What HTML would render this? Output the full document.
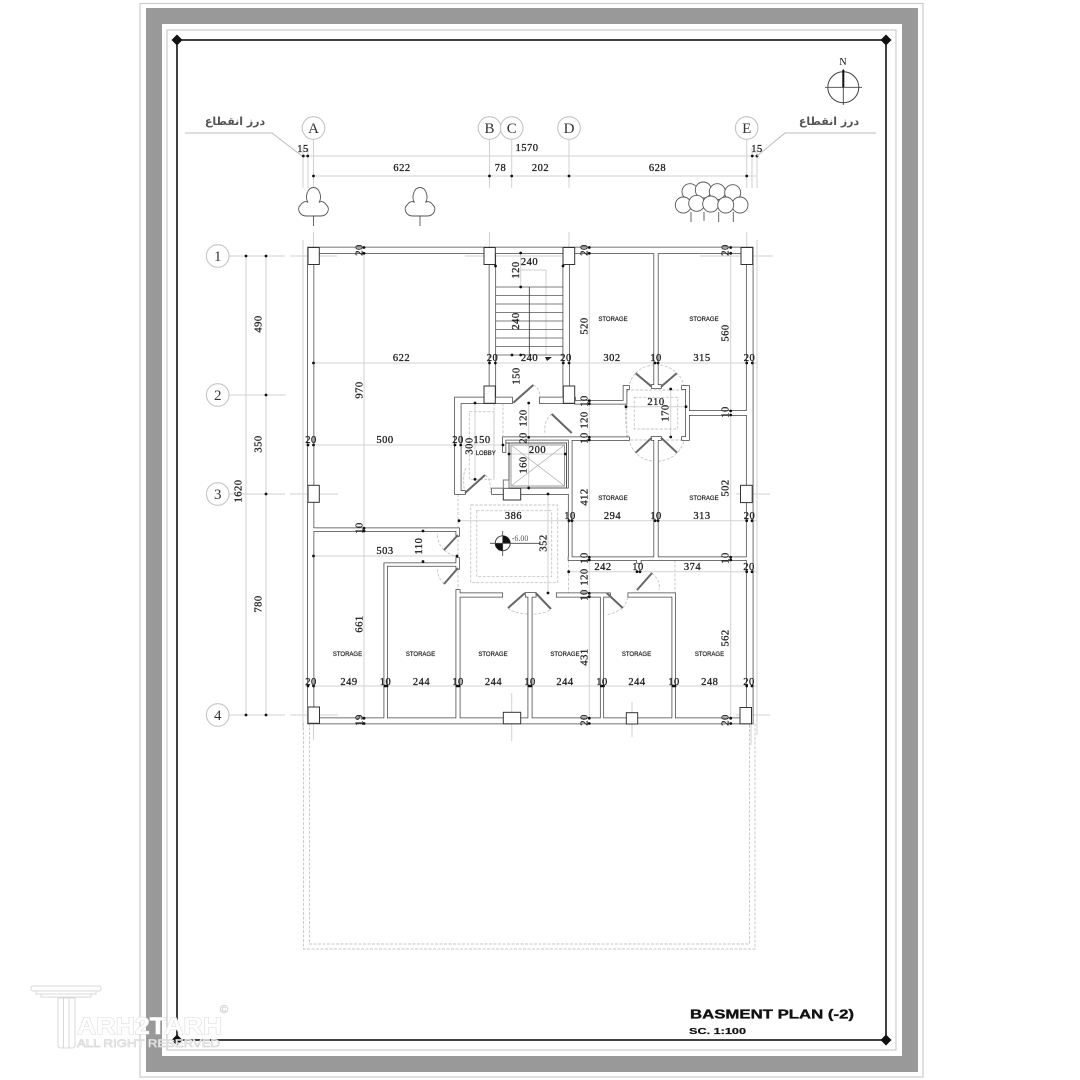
<!DOCTYPE html>
<html><head><meta charset="utf-8"><style>
html,body{margin:0;padding:0;background:#fff}
svg{display:block;filter:blur(.3px)}
.d text{font-family:"Liberation Serif",serif;font-size:10.5px;letter-spacing:.5px;text-anchor:middle;fill:#222;stroke:#222;stroke-width:.3}
.s text{font-family:"Liberation Sans",sans-serif;font-size:6px;text-anchor:middle;fill:#222;stroke:#222;stroke-width:.2}
.b text{font-family:"Liberation Serif",serif;font-size:15px;text-anchor:middle;fill:#333}
.p{font-family:"DejaVu Sans",sans-serif;font-size:11px;font-weight:bold;fill:#555}
</style></head><body>
<svg width="1080" height="1080" viewBox="0 0 1080 1080" xmlns="http://www.w3.org/2000/svg">
<defs>
<path id="w" d="M308 247.5H752.7V253.3H308Z M308 247.5H313.5V723.5H308Z M746.7 247.5H752.7V723.5H746.7Z M308 718.2H752.7V723.5H308Z
M489.5 253H495.3V398H489.5Z M563.3 253H569V398H563.3Z M455 397.5H512V403.3H455Z M540 397.5H575V403.3H540Z
M575 400.7H626V403.7H575Z M623.5 386H626.5V403.7H623.5Z M623.5 386H629V389H623.5Z M686 386H689V440H686Z M682 386H689V389H682Z M682 437H689V440H682Z
M688 411H746.7V415H688Z M571.7 437.3H629V440H571.7Z
M654.2 253H657.8V387H654.2Z M651.7 385H661V388H651.7Z M651.7 437H661V440H651.7Z M654.2 440H657.8V558H654.2Z
M568.5 557.3H746.7V560H568.5Z M568.7 438H571.7V560H568.7Z M637 559H640.7V563H637Z
M455 397.5H460.7V494H455Z M455 491H465V494H455Z
M503 437.3H571.7V439.8H503Z M503 437.3H505.5V452H503Z
M492 488.5H571.7V494H492Z
M556.7 593.3H603V596.7H556.7Z M600.7 593.3H603.3V718.5H600.7Z M603 593.3H610V596.7H603Z M628.3 593.3H675V596.7H628.3Z M672.3 593.3H675V718.5H672.3Z
M458.3 593.3H502.3V596.7H458.3Z M456.3 590H459.7V718.5H456.3Z M525.7 593H535.7V596.7H525.7Z M528.3 596H531.7V718.5H528.3Z
M384.3 563.3H387V718.5H384.3Z M384.3 563.3H459V565.9H384.3Z M456.3 558H459V569H456.3Z
M313 528.3H459V531H313Z M456.3 528.3H459V536H456.3Z"/>
<g id="t"><path d="M-7 216 C-14 216 -17 209 -13 205 C-10 201 -7 201 -5.5 202.500 C-9 197 -6 187.500 0 187.500 C6 187.500 9 197 5.500 202.500 C7 201 10 201 13 205 C17 209 14 216 7 216Z" fill="#fff" stroke="#555" stroke-width=".9"/><path d="M0 216V226" stroke="#555" stroke-width=".9"/></g>
</defs>
<rect width="1080" height="1080" fill="#fff"/>

<!-- frame -->
<rect x="140" y="3.500" width="783" height="1073.500" fill="none" stroke="#ccc" stroke-width="1.200"/>
<path fill-rule="evenodd" fill="#999" d="M146 8H918V1072H146Z M162 24H902V1056H162Z"/>
<rect x="167" y="30" width="729" height="1020" fill="none" stroke="#ccc" stroke-width="1.200"/>
<rect x="177" y="40" width="709" height="1000" fill="none" stroke="#111" stroke-width="1.600"/>
<g fill="#111"><path d="M177 34.500L182.500 40L177 45.500L171.500 40Z"/><path d="M886 34.500L891.500 40L886 45.500L880.500 40Z"/><path d="M177 1034.500L182.500 1040L177 1045.500L171.500 1040Z"/><path d="M886 1034.500L891.500 1040L886 1045.500L880.500 1040Z"/></g>

<!-- dashed guides -->
<g fill="none" stroke="#c6c6c6" stroke-width=".9" stroke-dasharray="3 1.500">
<path d="M303.500 723V949H755V723"/><path d="M309.500 723V944H749.500V723"/>
<rect x="470.700" y="505" width="87" height="77.700"/><rect x="476.700" y="510.700" width="75" height="66"/>
<path d="M458 494V590M568.500 560V593M503 403V437M494 403V479"/>
<rect x="469.300" y="411.700" width="24.700" height="67.600"/>
<rect x="626.700" y="390" width="59.300" height="50"/><rect x="634.300" y="397.300" width="43.400" height="31.700"/>
<path d="M635.700 373.300C645 362 667 362 676.700 373.300C692 386 692 440 677 452.700C667 464 645 464 635.700 452.700C622 440 622 386 635.700 373.300Z"/>
<path d="M533.300 385C540 388 541 396 539 403M551.700 414C546 418 544 426 545 433M485 475C490 478 491 486 490 493M465 493C463 485 463 472 466 468"/>
<path d="M444 550C449 554 453 556 458 556M444 550C439 545 437 539 437.700 533M444 584C439 579 437 573 437.700 568"/>
<path d="M508 608C516 616 544 616 551 609M622.700 608C618 611 612 614 606 615M652 573C659 580 660 584 659 590M622.700 608C626 604 627 600 628 597"/>
<path d="M675 560V593"/>
</g>

<!-- axis / dimension lines -->
<g fill="none" stroke="#d2d2d2" stroke-width="1">
<path d="M313.500 140V190M313.500 232V247M313.500 723V740M489.500 140V188M489.500 232V247M511.700 140V188M569 140V188M569 232V247M746.700 140V188M746.700 232V247"/>
<path d="M229 256H285M290 256H337M465 256H489M496 256H562M700 256H773M229 395H286M229 494H285M290 494H338M736 494H770M229 715H285M290 715H338M736 715H770"/>
<path d="M303 156H757M313.500 176H757M303 148V188M308 148V188M752 148V188M757 148V188"/>
<path d="M246 256V715M266 256V715"/>
<path d="M303 240V730M757 240V735M751 723V745"/>
<path d="M313.500 363H757M305 445H503M458 520.700H757M568 571.700H757M313.500 556H458M305 686H757"/>
<path d="M364 247V724M589.300 247V724M730.700 247V724"/>
<path d="M626 406.700H686M670.700 389V437M528.700 403V488M509 454H566M475 403V479M548 494V593"/>
<path d="M520.700 253V287M520 270H546V355M511.700 693V741M632 702V737"/>
</g>

<!-- stairs -->
<g stroke="#555" stroke-width=".8" fill="none">
<path d="M495 287H563.500M495 295.500H563.500M495 304H563.500M495 312.500H563.500M495 321H563.500M495 329.500H563.500M495 338H563.500M495 346.500H563.500M495 355H563.500"/>
<path d="M529.300 287V355" stroke="#333"/>
</g>
<path d="M545 357H552L547 361Z" fill="#222"/>

<!-- walls -->
<use href="#w" fill="none" stroke="#444" stroke-width="1.500"/>
<use href="#w" fill="#fff"/>

<!-- elevator -->
<g fill="none" stroke="#555" stroke-width="1">
<rect x="509" y="443" width="57.500" height="45"/><rect x="511" y="445" width="53.500" height="41" stroke="#999"/>
<path d="M511 445L564.500 486M564.500 445L511 486" stroke="#aaa" stroke-width=".7"/>
<path d="M505.500 443H509"/>
</g>

<!-- columns -->
<g fill="#fff" stroke="#333" stroke-width="1">
<rect x="308" y="247.500" width="11.300" height="17"/><rect x="484" y="247.500" width="11.300" height="17"/><rect x="563" y="247.500" width="11.700" height="17"/><rect x="741" y="247.500" width="11.700" height="17"/>
<rect x="484" y="386" width="11.300" height="17.300"/><rect x="563.300" y="386" width="11.400" height="17.300"/>
<rect x="308" y="485.300" width="11.300" height="17"/><rect x="740.500" y="485.300" width="11.700" height="17.300"/>
<rect x="503.300" y="488.300" width="17.400" height="11.700"/><rect x="503.300" y="480" width="5.700" height="8.300" stroke="#777"/>
<rect x="308" y="707" width="11.500" height="16.300"/><rect x="740" y="707.500" width="11.500" height="16.300"/>
<rect x="503.300" y="712.300" width="17.400" height="11.500"/><rect x="626.300" y="712.700" width="11.400" height="11.300"/>
</g>

<!-- door leaves -->
<g stroke="#666" stroke-width="2" fill="none">
<path d="M651.700 386.700L635.700 373.300M661 386.700L676.700 373.300M651.700 437.700L635.700 452.700M661 437.700L677 452.700"/>
<path d="M513.300 402.700L533.300 385M551.700 414L571.700 433M465 493L485 475"/>
<path d="M458 535L444 550M458 568L444 584M525 593L508 608M535.700 593L551 609M606.700 593L622.700 608M637 590L652 573"/>
</g>

<!-- dots -->
<g fill="#111">
<circle cx="303.300" cy="156" r="1.400"/><circle cx="307.700" cy="156" r="1.400"/><circle cx="752.300" cy="156" r="1.400"/><circle cx="757" cy="156" r="1.400"/>
<circle cx="313.500" cy="176" r="1.400"/><circle cx="489.500" cy="176" r="1.400"/><circle cx="511.700" cy="176" r="1.400"/><circle cx="569" cy="176" r="1.400"/><circle cx="746.700" cy="176" r="1.400"/>
<circle cx="246" cy="256" r="1.400"/><circle cx="266" cy="256" r="1.400"/><circle cx="266" cy="395" r="1.400"/><circle cx="266" cy="494" r="1.400"/><circle cx="266" cy="715" r="1.400"/><circle cx="246" cy="715" r="1.400"/>
<circle cx="313.500" cy="363" r="1.400"/><circle cx="489.500" cy="363" r="1.400"/><circle cx="495.300" cy="363" r="1.400"/><circle cx="563.300" cy="363" r="1.400"/><circle cx="569" cy="363" r="1.400"/><circle cx="655" cy="363" r="1.400"/><circle cx="658" cy="363" r="1.400"/><circle cx="746.700" cy="363" r="1.400"/><circle cx="752.300" cy="363" r="1.400"/>
<circle cx="308" cy="445" r="1.400"/><circle cx="313.500" cy="445" r="1.400"/><circle cx="455" cy="445" r="1.400"/><circle cx="460.700" cy="445" r="1.400"/><circle cx="503" cy="445" r="1.400"/>
<circle cx="459" cy="520.700" r="1.400"/><circle cx="569" cy="520.700" r="1.400"/><circle cx="572" cy="520.700" r="1.400"/><circle cx="655" cy="520.700" r="1.400"/><circle cx="658" cy="520.700" r="1.400"/><circle cx="746.700" cy="520.700" r="1.400"/><circle cx="752" cy="520.700" r="1.400"/>
<circle cx="568.700" cy="571.700" r="1.400"/><circle cx="637" cy="571.700" r="1.400"/><circle cx="640" cy="571.700" r="1.400"/><circle cx="746.700" cy="571.700" r="1.400"/><circle cx="752" cy="571.700" r="1.400"/>
<circle cx="313.500" cy="556" r="1.400"/><circle cx="457" cy="556" r="1.400"/><circle cx="423" cy="531" r="1.400"/><circle cx="423" cy="561.500" r="1.400"/>
<circle cx="308" cy="686" r="1.400"/><circle cx="313.500" cy="686" r="1.400"/><circle cx="385" cy="686" r="1.400"/><circle cx="387" cy="686" r="1.400"/><circle cx="457" cy="686" r="1.400"/><circle cx="459" cy="686" r="1.400"/><circle cx="529" cy="686" r="1.400"/><circle cx="531" cy="686" r="1.400"/><circle cx="601.500" cy="686" r="1.400"/><circle cx="603.500" cy="686" r="1.400"/><circle cx="673" cy="686" r="1.400"/><circle cx="675" cy="686" r="1.400"/><circle cx="746.700" cy="686" r="1.400"/><circle cx="752" cy="686" r="1.400"/>
<circle cx="364" cy="247.500" r="1.400"/><circle cx="364" cy="253.300" r="1.400"/><circle cx="364" cy="528.300" r="1.400"/><circle cx="364" cy="531" r="1.400"/><circle cx="364" cy="718.200" r="1.400"/><circle cx="364" cy="723.500" r="1.400"/>
<circle cx="589.300" cy="247.500" r="1.400"/><circle cx="589.300" cy="253.300" r="1.400"/><circle cx="589.300" cy="400.700" r="1.400"/><circle cx="589.300" cy="403.700" r="1.400"/><circle cx="589.300" cy="437.300" r="1.400"/><circle cx="589.300" cy="440" r="1.400"/><circle cx="589.300" cy="557.300" r="1.400"/><circle cx="589.300" cy="560" r="1.400"/><circle cx="589.300" cy="593.300" r="1.400"/><circle cx="589.300" cy="596.700" r="1.400"/><circle cx="589.300" cy="718.200" r="1.400"/><circle cx="589.300" cy="723.500" r="1.400"/>
<circle cx="730.700" cy="247.500" r="1.400"/><circle cx="730.700" cy="253.300" r="1.400"/><circle cx="730.700" cy="411" r="1.400"/><circle cx="730.700" cy="415" r="1.400"/><circle cx="730.700" cy="557.300" r="1.400"/><circle cx="730.700" cy="560" r="1.400"/><circle cx="730.700" cy="718.200" r="1.400"/><circle cx="730.700" cy="723.500" r="1.400"/>
<circle cx="520.700" cy="253" r="1.400"/><circle cx="520.700" cy="287" r="1.400"/><circle cx="512" cy="355" r="1.400"/><circle cx="520.700" cy="355" r="1.400"/><circle cx="495.500" cy="266" r="1.400"/><circle cx="563" cy="266" r="1.400"/>
<circle cx="528.700" cy="403" r="1.400"/><circle cx="528.700" cy="437.300" r="1.400"/><circle cx="528.700" cy="488" r="1.400"/><circle cx="509" cy="454" r="1.400"/><circle cx="565.300" cy="454" r="1.400"/>
<circle cx="475" cy="403" r="1.400"/><circle cx="475" cy="479.300" r="1.400"/><circle cx="548" cy="494" r="1.400"/><circle cx="548" cy="593" r="1.400"/>
<circle cx="626" cy="406.700" r="1.400"/><circle cx="686" cy="406.700" r="1.400"/><circle cx="670.700" cy="389" r="1.400"/><circle cx="670.700" cy="437" r="1.400"/>
</g>

<!-- axis bubbles -->
<g fill="#fff" stroke="#c4c4c4" stroke-width="1.100">
<circle cx="313.500" cy="128" r="11.300"/><circle cx="489.500" cy="128" r="11.300"/><circle cx="511.700" cy="128" r="11.300"/><circle cx="569" cy="128" r="11.300"/><circle cx="746.700" cy="128" r="11.300"/>
<circle cx="217.700" cy="256" r="11.300"/><circle cx="217.700" cy="395" r="11.300"/><circle cx="217.700" cy="494" r="11.300"/><circle cx="217.700" cy="715" r="11.300"/>
</g>
<g class="b">
<text x="313.500" y="133">A</text><text x="489.500" y="133">B</text><text x="511.700" y="133">C</text><text x="569" y="133">D</text><text x="746.700" y="133">E</text>
<text x="217.700" y="261">1</text><text x="217.700" y="400">2</text><text x="217.700" y="499">3</text><text x="217.700" y="720">4</text>
</g>

<!-- trees -->
<use href="#t" x="313.500"/><use href="#t" x="420"/>
<g fill="#fff" stroke="#555" stroke-width=".9">
<path d="M691 212V222M704 212V221M718.700 212V222M733.300 212V222" fill="none"/>
<circle cx="690" cy="191.700" r="8"/><circle cx="703.300" cy="190" r="8"/><circle cx="717.300" cy="191.700" r="8"/><circle cx="732.700" cy="192.700" r="8"/>
<circle cx="683.300" cy="205" r="8"/><circle cx="740" cy="205" r="8"/><circle cx="696.700" cy="203.300" r="8"/><circle cx="710.700" cy="204" r="8"/><circle cx="725.700" cy="205" r="8"/>
</g>

<!-- leaders -->
<path d="M185 133H272L302 156M876 133H785L757 156" fill="none" stroke="#bbb" stroke-width="1"/>
<text class="p" x="235" y="125" text-anchor="middle" direction="rtl">درز انقطاع</text>
<text class="p" x="829" y="125" text-anchor="middle" direction="rtl">درز انقطاع</text>

<!-- north -->
<circle cx="843.300" cy="87.300" r="15.500" fill="none" stroke="#444" stroke-width="1"/>
<path d="M825 87.300H862M843.300 69V105" stroke="#444" stroke-width=".9"/>
<path d="M843.300 70V87.300" stroke="#111" stroke-width="2"/>
<text x="843" y="65" font-family="Liberation Serif,serif" font-size="10" text-anchor="middle" fill="#111">N</text>

<!-- spot level -->
<circle cx="502.700" cy="543.300" r="7.500" fill="#fff" stroke="#333" stroke-width=".9"/>
<path d="M502.700 543.300V535.800A7.500 7.500 0 0 1 510.200 543.300ZM502.700 543.300V550.800A7.500 7.500 0 0 1 495.200 543.300Z" fill="#111"/>
<path d="M490 543.300H540M502.700 531V556" stroke="#444" stroke-width=".8"/>
<text x="520" y="541" font-family="Liberation Serif,serif" font-size="8" text-anchor="middle" fill="#555">-6.00</text>

<!-- horizontal dimensions -->
<g class="d">
<text x="303" y="152">15</text><text x="527" y="151">1570</text><text x="757" y="152">15</text>
<text x="402" y="171">622</text><text x="500.500" y="171">78</text><text x="540.500" y="171">202</text><text x="657.500" y="171">628</text>
<text x="401.500" y="361">622</text><text x="492.500" y="361">20</text><text x="529.500" y="361">240</text><text x="566" y="361">20</text><text x="612" y="361">302</text><text x="656" y="361">10</text><text x="702" y="361">315</text><text x="749.500" y="361">20</text>
<text x="529.500" y="265">240</text>
<text x="656" y="405">210</text>
<text x="311" y="443">20</text><text x="385" y="443">500</text><text x="458" y="443">20</text><text x="482" y="443">150</text><text x="537.500" y="453">200</text>
<text x="513.500" y="519">386</text><text x="570" y="519">10</text><text x="612.500" y="519">294</text><text x="656" y="519">10</text><text x="702" y="519">313</text><text x="749.500" y="519">20</text>
<text x="385" y="554">503</text>
<text x="603" y="570">242</text><text x="638" y="570">10</text><text x="692.500" y="570">374</text><text x="749" y="570">20</text>
<text x="311" y="685">20</text><text x="349" y="685">249</text><text x="385.500" y="685">10</text><text x="421.500" y="685">244</text><text x="458" y="685">10</text><text x="493.500" y="685">244</text><text x="530" y="685">10</text><text x="565" y="685">244</text><text x="602" y="685">10</text><text x="637" y="685">244</text><text x="674" y="685">10</text><text x="709.700" y="685">248</text><text x="749" y="685">20</text>
</g>
<!-- vertical dimensions -->
<g class="d">
<text transform="translate(258,324) rotate(-90)" y="3.500">490</text>
<text transform="translate(258,444) rotate(-90)" y="3.500">350</text>
<text transform="translate(258,604) rotate(-90)" y="3.500">780</text>
<text transform="translate(238,491) rotate(-90)" y="3.500">1620</text>
<text transform="translate(359,250) rotate(-90)" y="3.500">20</text>
<text transform="translate(359,390) rotate(-90)" y="3.500">970</text>
<text transform="translate(359,528) rotate(-90)" y="3.500">10</text>
<text transform="translate(359,624) rotate(-90)" y="3.500">661</text>
<text transform="translate(359,720) rotate(-90)" y="3.500">19</text>
<text transform="translate(584,250) rotate(-90)" y="3.500">20</text>
<text transform="translate(584,326) rotate(-90)" y="3.500">520</text>
<text transform="translate(584,401) rotate(-90)" y="3.500">10</text>
<text transform="translate(584,420) rotate(-90)" y="3.500">120</text>
<text transform="translate(584,438) rotate(-90)" y="3.500">10</text>
<text transform="translate(584,497) rotate(-90)" y="3.500">412</text>
<text transform="translate(584,558) rotate(-90)" y="3.500">10</text>
<text transform="translate(584,577) rotate(-90)" y="3.500">120</text>
<text transform="translate(584,595) rotate(-90)" y="3.500">10</text>
<text transform="translate(584,657) rotate(-90)" y="3.500">431</text>
<text transform="translate(584,720) rotate(-90)" y="3.500">20</text>
<text transform="translate(725,250) rotate(-90)" y="3.500">20</text>
<text transform="translate(725,333) rotate(-90)" y="3.500">560</text>
<text transform="translate(725,412) rotate(-90)" y="3.500">10</text>
<text transform="translate(725,488) rotate(-90)" y="3.500">502</text>
<text transform="translate(725,558) rotate(-90)" y="3.500">10</text>
<text transform="translate(725,638) rotate(-90)" y="3.500">562</text>
<text transform="translate(725,720) rotate(-90)" y="3.500">20</text>
<text transform="translate(515.700,270) rotate(-90)" y="3.500">120</text>
<text transform="translate(515.700,321) rotate(-90)" y="3.500">240</text>
<text transform="translate(516,376) rotate(-90)" y="3.500">150</text>
<text transform="translate(523,418) rotate(-90)" y="3.500">120</text>
<text transform="translate(523,438) rotate(-90)" y="3.500">20</text>
<text transform="translate(523,465) rotate(-90)" y="3.500">160</text>
<text transform="translate(469,446) rotate(-90)" y="3.500">300</text>
<text transform="translate(543,543) rotate(-90)" y="3.500">352</text>
<text transform="translate(418.500,546) rotate(-90)" y="3.500">110</text>
<text transform="translate(665,413) rotate(-90)" y="3.500">170</text>
</g>
<!-- room labels -->
<g class="s">
<text x="613" y="321">STORAGE</text><text x="704" y="321">STORAGE</text><text x="613" y="500">STORAGE</text><text x="704" y="500">STORAGE</text>
<text x="347.500" y="656">STORAGE</text><text x="420.500" y="656">STORAGE</text><text x="493" y="656">STORAGE</text><text x="565" y="656">STORAGE</text><text x="636.500" y="656">STORAGE</text><text x="709.500" y="656">STORAGE</text>
<text x="485.700" y="455">LOBBY</text>
</g>

<!-- title -->
<text x="690" y="1018.500" font-family="Liberation Sans,sans-serif" font-weight="bold" font-size="12.500" textLength="164" lengthAdjust="spacingAndGlyphs" fill="#111" stroke="#111" stroke-width=".35">BASMENT PLAN (-2)</text>
<text x="689" y="1034" font-family="Liberation Sans,sans-serif" font-weight="bold" font-size="8" textLength="57" lengthAdjust="spacingAndGlyphs" fill="#111" stroke="#111" stroke-width=".2">SC. 1:100</text>

<!-- watermark -->
<g fill="#fff" stroke="#d8d8d8" stroke-width="1">
<rect x="31" y="986" width="70" height="5" rx="2"/>
<rect x="36" y="991" width="60" height="3"/><rect x="41" y="994" width="50" height="3"/>
<path d="M58 998H75V1045Q75 1048 72 1048H61Q58 1048 58 1045Z"/><path d="M63.500 998V1048M69 998V1048" fill="none"/>
<text x="77" y="1034" font-family="Liberation Sans,sans-serif" font-weight="bold" font-size="24" textLength="145" lengthAdjust="spacingAndGlyphs" paint-order="stroke">ARH2TARH</text>
<text x="77" y="1047" font-family="Liberation Sans,sans-serif" font-size="11" textLength="143" lengthAdjust="spacingAndGlyphs" stroke-width=".7">ALL RIGHT RESERVED</text>
<text x="220" y="1013" font-family="Liberation Sans,sans-serif" font-size="11" stroke-width=".6">©</text>
</g>
</svg>
</body></html>
